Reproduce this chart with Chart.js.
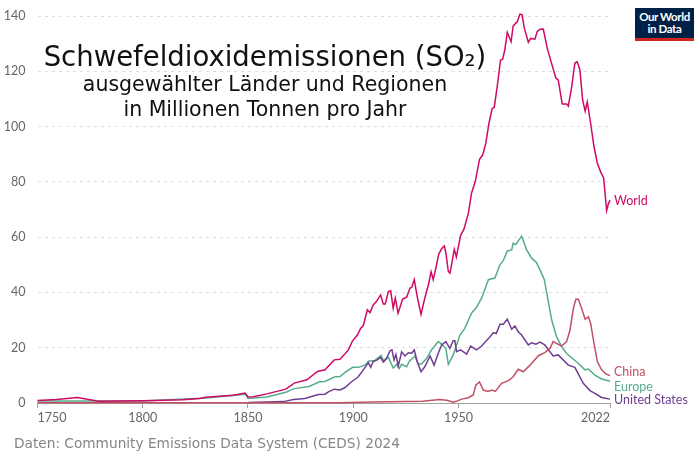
<!DOCTYPE html>
<html>
<head>
<meta charset="utf-8">
<script src="https://cdn.jsdelivr.net/npm/chart.js@4/dist/chart.umd.min.js"></script>
<style>
    html, body { margin: 0; padding: 0; background: #fff; }
    #wrap { position: relative; width: 700px; height: 459px; overflow: hidden; }
    canvas { position: absolute; left: 0; top: 0; }
    .txt { position: absolute; white-space: nowrap; font-family: "DejaVu Sans", sans-serif; color: #111; }
    .center { width: 530px; left: 0; text-align: center; }
    .lbl { position: absolute; left: 614px; font-family: Lato, sans-serif; font-size: 12.5px; line-height: 14px; white-space: nowrap; }
    #logo { position: absolute; left: 635px; top: 8px; width: 59px; height: 27px; padding-top: 3px; background: #002147; border-bottom: 3px solid #ce261e; color: #fff; font-family: Lato, sans-serif; font-weight: 700; font-size: 11.5px; line-height: 11.5px; letter-spacing: -0.4px; text-align: center; box-sizing: content-box; }
</style>
</head>
<body>
<div id="wrap">
    <canvas id="so2Chart" width="700" height="459"></canvas>
    <div class="txt center" style="top: 40px; font-size: 27.5px;">Schwefeldioxidemissionen (SO₂)</div>
    <div class="txt center" style="top: 72px; font-size: 20.5px;">ausgewählter Länder und Regionen</div>
    <div class="txt center" style="top: 97px; font-size: 20.5px;">in Millionen Tonnen pro Jahr</div>
    <div class="txt" style="left: 14px; top: 435px; font-size: 13.7px; color: #858585;">Daten: Community Emissions Data System (CEDS) 2024</div>
    <div class="lbl" style="top: 194px; color: #cf0a66;">World</div>
    <div class="lbl" style="top: 365px; color: #c15065;">China</div>
    <div class="lbl" style="top: 380px; color: #58ac8c;">Europe</div>
    <div class="lbl" style="top: 393px; color: #6d3e91;">United States</div>
    <div id="logo">Our World<br>in Data</div>
</div>
<script>
var xTicks = [1750, 1800, 1850, 1900, 1950, 2022];
var yTicks = [0, 20, 40, 60, 80, 100, 120, 140];

var worldYears = [1750, 1759, 1769, 1779, 1800, 1819, 1827, 1830, 1843, 1848.6, 1850, 1852.6, 1859, 1868, 1872, 1878, 1883, 1886.6, 1891, 1893.7,
    1896, 1897.7, 1899.7, 1902, 1903.5, 1904.8, 1906.7, 1908, 1909.5, 1911, 1913, 1914.3, 1915.2, 1916.7, 1917.8, 1919, 1920, 1921.3, 1923.5, 1925.4,
    1927, 1927.8, 1929, 1930.4, 1932.2, 1934, 1935.7, 1937, 1938, 1939.3, 1940.6, 1942, 1943.3, 1944, 1945.2, 1946, 1948, 1949, 1951, 1952.6,
    1954.7, 1956.2, 1958, 1960, 1961.5, 1963, 1964.5, 1966, 1967, 1968.4, 1970, 1971, 1972, 1973.2, 1975, 1976, 1978, 1979.2, 1980.2, 1981.3,
    1983.2, 1984.3, 1986.3, 1987.4, 1988.7, 1990.3, 1992.2, 1994, 1996.3, 1997.4, 1999.3, 2001.4, 2002.2, 2003.8, 2005.3, 2006.4, 2007.7, 2009, 2010.2, 2011.2,
    2012.8, 2014.4, 2016, 2017.5, 2019, 2020.4, 2021.2, 2022];
var worldValues = [0.9, 1.3, 2, 0.6, 0.85, 1.2, 1.6, 2.05, 2.8, 3.6, 2.2, 2.3, 3.3, 5, 7.2, 8.4, 11.4, 12, 15.6, 15.8,
    17.7, 19.2, 22.5, 24.6, 27, 28, 33.7, 32.7, 35.5, 36.7, 39.1, 35.8, 35.8, 40.3, 40.6, 34.3, 37.9, 32.5, 37.6, 38.3,
    41.6, 41.8, 44.6, 38.5, 32.1, 37.9, 42.7, 47.5, 44.6, 48.9, 53.8, 55.8, 56.8, 54.4, 47.5, 47, 55.6, 52.8, 60.6, 62.9,
    68.6, 75.9, 80.1, 88.2, 89.7, 94, 101.2, 106.5, 107, 114.4, 124.1, 124.4, 127.7, 134.1, 130.7, 136.4, 138, 140.7, 140.5, 135.6,
    130.5, 131.9, 131.6, 134.3, 135.2, 135.3, 128.3, 123.5, 117.5, 116.9, 108.2, 108.2, 107.4, 114.4, 122.9, 123.5, 120.5, 109.6, 105.6, 108.9,
    101.2, 92.7, 86.7, 83.7, 81.3, 69.6, 72, 73.4];

var chinaYears = [1750, 1850, 1893.7, 1909.5, 1933, 1941, 1944.4, 1947.5, 1949, 1951.5, 1954.7, 1957, 1958.3, 1960, 1961.8, 1964, 1966, 1967.5, 1970.5, 1973.7,
    1976, 1978.4, 1980.8, 1984, 1988, 1991, 1993.5, 1995, 1999, 2001.4, 2003, 2004.6, 2005.8, 2007, 2008.5, 2010.2, 2011.7, 2012.8, 2014.4, 2016,
    2018, 2020, 2022];
var chinaValues = [0.05, 0.05, 0.1, 0.4, 0.6, 1.3, 1, 0.3, 0.6, 1.4, 1.9, 2.9, 6.5, 7.6, 4.7, 4.2, 4.7, 4.2, 7.1, 8.1,
    9.5, 12.2, 11.3, 13.7, 17.1, 18.2, 19.8, 22.2, 20.6, 22.2, 26.4, 34.3, 37.5, 37.5, 34.3, 30.3, 31.2, 28.8, 21.6, 15,
    12, 10.5, 9.9];

var europeYears = [1750, 1800, 1830, 1849, 1850, 1859, 1868, 1872, 1879, 1884, 1886.6, 1891, 1893.7, 1896, 1899.7, 1902.4, 1905.6, 1907.2, 1910.3, 1913.2,
    1914.3, 1916.7, 1919, 1920.6, 1921.9, 1923, 1925.4, 1926.6, 1929.3, 1930.9, 1932.5, 1934.9, 1937.2, 1940.4, 1942, 1944, 1945.2, 1947.5, 1950.7, 1953,
    1956.2, 1958.6, 1961, 1964.2, 1967.3, 1969.7, 1971.3, 1973.2, 1975.3, 1976, 1977.2, 1980, 1982.4, 1984.8, 1987.1, 1989.5, 1990.8, 1992.7, 1994.3, 1996.6,
    1999, 2001.4, 2006.9, 2010.1, 2011.7, 2014.8, 2018, 2022];
var europeValues = [0.7, 0.7, 1.8, 3.2, 1.6, 2.2, 3.9, 5.2, 6, 7.7, 7.8, 9.4, 9.6, 11, 12.9, 12.9, 13.7, 15.1, 15.4, 17.2,
    15.4, 16.5, 12.7, 14, 12.5, 14, 13.1, 15, 17, 14.1, 14.1, 16.2, 19.2, 22.2, 21.3, 19.8, 14, 17.4, 24.6, 27,
    32.5, 34.6, 37.9, 44.6, 45.2, 50, 51.5, 55, 55.4, 57.8, 57.3, 60.4, 55.4, 52.4, 50.8, 46.9, 44.6, 36.7, 30, 24,
    20.4, 17.9, 14.4, 12, 12.3, 10.1, 8.7, 7.9];

var usYears = [1850, 1867, 1871.6, 1877, 1883.4, 1886.6, 1888.2, 1891, 1893.7, 1896, 1899.2, 1902.4, 1904.8, 1907.2, 1908.3, 1909.5, 1911.4, 1913, 1914.3, 1915.6,
    1917.5, 1918.4, 1919.4, 1920.3, 1921.4, 1923, 1924.6, 1926.2, 1927.8, 1929, 1930.4, 1932.2, 1934, 1936.5, 1938.4, 1940.4, 1942, 1944, 1945.9, 1947.5,
    1948.3, 1949.1, 1951, 1953.9, 1955.8, 1958.6, 1961, 1965, 1966.5, 1968, 1969.7, 1971.3, 1973.2, 1975.3, 1976.8, 1978.4, 1980, 1983.2, 1984.8, 1986.8,
    1988.7, 1991, 1995, 1997.4, 2002.2, 2005.3, 2009.3, 2012.5, 2014.8, 2018, 2022];
var usValues = [0.2, 0.5, 1.3, 1.6, 3.1, 3.2, 4, 5, 4.7, 5.5, 7.7, 9.5, 12, 14.6, 12.9, 15, 15.6, 16.5, 14.8, 15.8,
    18.9, 19.2, 15.6, 17.6, 13.4, 18.5, 17, 18.2, 18, 19.2, 15, 11.3, 13.1, 17, 13.7, 18, 21, 22.2, 19.8, 22.5,
    22.5, 18.6, 19.2, 17.7, 20.6, 19.2, 20.6, 24, 25.4, 25.2, 28.5, 28.5, 30.3, 26.7, 27.9, 25.8, 24.6, 21, 21.8, 21.3,
    22, 21, 17, 17.4, 13.7, 12.9, 7.1, 4.5, 3.5, 2, 1.4];

function toPoints(years, values) {
    return years.map(function (year, i) {
        return { x: year, y: values[i] };
    });
}

function makeLine(label, years, values, color) {
    return {
        label: label,
        data: toPoints(years, values),
        borderColor: color,
        borderWidth: 1.5,
        pointRadius: 0,
        tension: 0,
        fill: false,
        clip: false
    };
}

var so2Chart = new Chart(document.getElementById('so2Chart'), {
    type: 'line',
    data: {
        datasets: [
            makeLine('World', worldYears, worldValues, '#cf0a66'),
            makeLine('China', chinaYears, chinaValues, '#c15065'),
            makeLine('United States', usYears, usValues, '#6d3e91'),
            makeLine('Europe', europeYears, europeValues, '#58ac8c')
        ]
    },
    options: {
        responsive: false,
        animation: false,
        layout: { padding: { top: 16, right: 90, bottom: 0, left: 0 } },
        plugins: { legend: { display: false }, tooltip: { enabled: false } },
        scales: {
            x: {
                type: 'linear',
                min: 1750,
                max: 2022,
                afterBuildTicks: function (axis) {
                    axis.ticks = xTicks.map(function (v) { return { value: v }; });
                },
                afterFit: function (axis) { axis.height = 56; },
                border: { color: '#a1a1a1', width: 1 },
                grid: { drawOnChartArea: false, drawTicks: true, tickLength: 5, color: '#a1a1a1' },
                ticks: {
                    align: 'inner',
                    maxRotation: 0,
                    autoSkip: false,
                    padding: 2,
                    color: '#666',
                    font: { family: 'Lato', size: 12.5 },
                    callback: function (v) { return String(v); }
                }
            },
            y: {
                min: 0,
                max: 140,
                afterBuildTicks: function (axis) {
                    axis.ticks = yTicks.map(function (v) { return { value: v }; });
                },
                afterFit: function (axis) {
                    axis.width = 37.5;
                    axis.paddingTop = 0;
                    axis.paddingBottom = 0;
                },
                border: { display: false, dash: [3, 4] },
                grid: { drawTicks: false, color: '#dddddd' },
                ticks: {
                    padding: 12,
                    color: '#666',
                    font: { family: 'Lato', size: 12.5 }
                }
            }
        }
    }
});
</script>
</body>
</html>
